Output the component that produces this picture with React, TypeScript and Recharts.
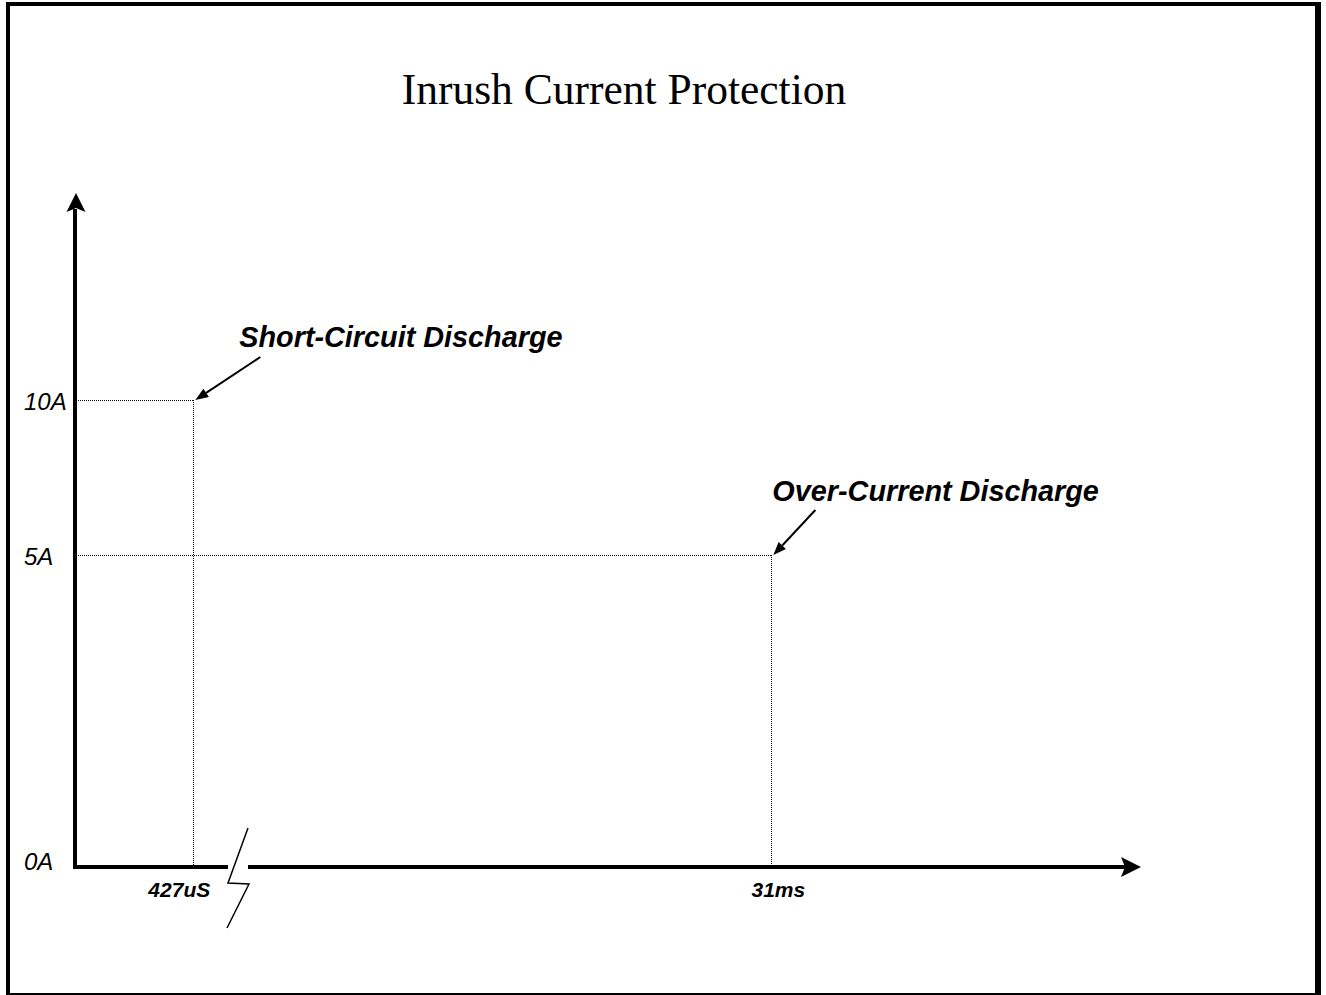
import { ComposedChart, XAxis, YAxis, Scatter, ReferenceLine } from "recharts";

// event times (seconds) and current levels (amps)
const eventTimes = [427e-6, 0.031];
const eventCurrents = [10, 5];
const eventNames = ["Short-Circuit Discharge", "Over-Current Discharge"];

const timeTicks = [427e-6, 0.031];
const timeTickLabels = ["427uS", "31ms"];
const currentTicks = [0, 5, 10];
const currentTickLabels = ["0A", "5A", "10A"];

const W = 1326;
const H = 995;
const PLOT = { left: 76, top: 193, right: 1141, bottom: 867 };
const X_DOMAIN = [1.79e-4, 0.48];
const Y_MAX = 18.79;
const Y_EXP = 0.5818;

const SANS = "'Liberation Sans', Arial, sans-serif";

// label nudges, the sketch doesn't centre them exactly on the ticks
const timeTickShift = [-14, 7];

// where the annotation arrow / text sit relative to each marked point
const notes = [
  { ax: 67, ay: -43, tx: 46, ty: -53 },
  { ax: 44, ay: -45, tx: 1, ty: -54 },
];

// small d3-like power scale so the current axis can be compressed like the sketch
function powScale(k: number) {
  let dom = [0, 1];
  let rng = [0, 1];
  const s: any = (v: number) => {
    const f = Math.pow(Math.max(0, (Number(v) - dom[0]) / (dom[1] - dom[0])), k);
    return rng[0] + f * (rng[1] - rng[0]);
  };
  s.domain = (d?: any) => {
    if (d === undefined) return dom.slice();
    dom = [Number(d[0]), Number(d[d.length - 1])];
    return s;
  };
  s.range = (r?: any) => {
    if (r === undefined) return rng.slice();
    rng = [Number(r[0]), Number(r[r.length - 1])];
    return s;
  };
  s.copy = () => powScale(k).domain(dom).range(rng);
  s.ticks = () => currentTicks.slice();
  s.clamp = () => s;
  s.nice = () => s;
  return s;
}

const rows = eventTimes.map((t, k) => ({ t, i: eventCurrents[k], name: eventNames[k], k }));

function TimeTick(props: any) {
  const { x, payload } = props;
  const idx = timeTicks.indexOf(payload.value);
  return (
    <text x={x + (timeTickShift[idx] || 0)} y={PLOT.bottom + 30} textAnchor="middle" fontFamily={SANS}
      fontSize={21} fontWeight="bold" fontStyle="italic" fill="#000">
      {timeTickLabels[idx]}
    </text>
  );
}

function CurrentTick(props: any) {
  const { y, payload } = props;
  const idx = currentTicks.indexOf(payload.value);
  return (
    <text x={24} y={y + (payload.value === 0 ? 3 : 10)} textAnchor="start" fontFamily={SANS}
      fontSize={24} fontStyle="italic" fill="#000">
      {currentTickLabels[idx]}
    </text>
  );
}

function Annotation(props: any) {
  const { cx, cy, payload } = props;
  const n = notes[payload.k];
  const x1 = cx + n.ax;
  const y1 = cy + n.ay;
  const tipX = cx + 2;
  const tipY = cy;
  const ang = Math.atan2(tipY - y1, tipX - x1);
  const len = 13;
  const half = 5;
  const bx = tipX - len * Math.cos(ang);
  const by = tipY - len * Math.sin(ang);
  const head = [
    [tipX, tipY],
    [bx + half * Math.sin(ang), by - half * Math.cos(ang)],
    [bx - half * Math.sin(ang), by + half * Math.cos(ang)],
  ]
    .map((p) => p.join(","))
    .join(" ");
  return (
    <g>
      <line x1={x1} y1={y1} x2={bx} y2={by} stroke="#000" strokeWidth={2} />
      <polygon points={head} fill="#000" />
      <text x={cx + n.tx} y={cy + n.ty} fontFamily={SANS} fontSize={28.8} fontWeight="bold"
        fontStyle="italic" fill="#000">
        {payload.name}
      </text>
    </g>
  );
}

function Axes() {
  const { left, top, right, bottom } = PLOT;
  return (
    <g>
      <text x={624} y={104} textAnchor="middle" fontFamily="'Liberation Serif', 'Times New Roman', serif"
        fontSize={43.5} fill="#000">
        Inrush Current Protection
      </text>
      <line x1={left - 1} y1={bottom + 2} x2={left - 1} y2={top + 16} stroke="#000" strokeWidth={4} />
      <polygon
        points={`${left},${top} ${left - 9.5},${top + 19} ${left},${top + 15} ${left + 9.5},${top + 19}`}
        fill="#000"
      />
      <line x1={left - 3} y1={bottom} x2={right - 16} y2={bottom} stroke="#000" strokeWidth={4} />
      <polygon
        points={`${right},${bottom} ${right - 20},${bottom - 10} ${right - 16},${bottom} ${right - 20},${bottom + 10}`}
        fill="#000"
      />
      {/* axis break */}
      <rect x={228} y={bottom - 4} width={20} height={8} fill="#fff" />
      <polyline points="248,828 228,883 249,884 227,928" fill="none" stroke="#000" strokeWidth={1.5} />
    </g>
  );
}

export default function App() {
  return (
    <div style={{ position: "absolute", left: 0, top: 0, width: W, height: H, background: "#fff" }}>
      <div
        style={{
          position: "absolute",
          left: 6,
          top: 2,
          width: 1315,
          height: 993,
          boxSizing: "border-box",
          borderTop: "4px solid #000",
          borderLeft: "4px solid #000",
          borderRight: "6px solid #000",
          borderBottom: "2px solid #000",
        }}
      />
      <div style={{ position: "absolute", left: 0, top: 0 }}>
        <ComposedChart width={W} height={H} data={rows}
          margin={{ top: PLOT.top, right: W - PLOT.right, bottom: 0, left: 0 }}>
          <XAxis dataKey="t" type="number" scale="log" domain={X_DOMAIN} allowDataOverflow
            ticks={timeTicks} height={H - PLOT.bottom} axisLine={false} tickLine={false}
            tick={<TimeTick />} interval={0} />
          <YAxis dataKey="i" type="number" scale={powScale(Y_EXP)} domain={[0, Y_MAX]}
            allowDataOverflow ticks={currentTicks} width={PLOT.left} axisLine={false}
            tickLine={false} tick={<CurrentTick />} interval={0} />
          {rows.map((r) => (
            <ReferenceLine key={"h" + r.k} ifOverflow="visible"
              segment={[{ x: X_DOMAIN[0], y: r.i }, { x: r.t, y: r.i }]}
              stroke="#000" strokeWidth={1} strokeDasharray="1 1" shapeRendering="crispEdges" />
          ))}
          {rows.map((r) => (
            <ReferenceLine key={"v" + r.k} ifOverflow="visible"
              segment={[{ x: r.t, y: r.i }, { x: r.t, y: 0 }]}
              stroke="#000" strokeWidth={1} strokeDasharray="1 1" shapeRendering="crispEdges" />
          ))}
          <Scatter dataKey="i" shape={<Annotation />} isAnimationActive={false} legendType="none" />
          <Axes />
        </ComposedChart>
      </div>
    </div>
  );
}
